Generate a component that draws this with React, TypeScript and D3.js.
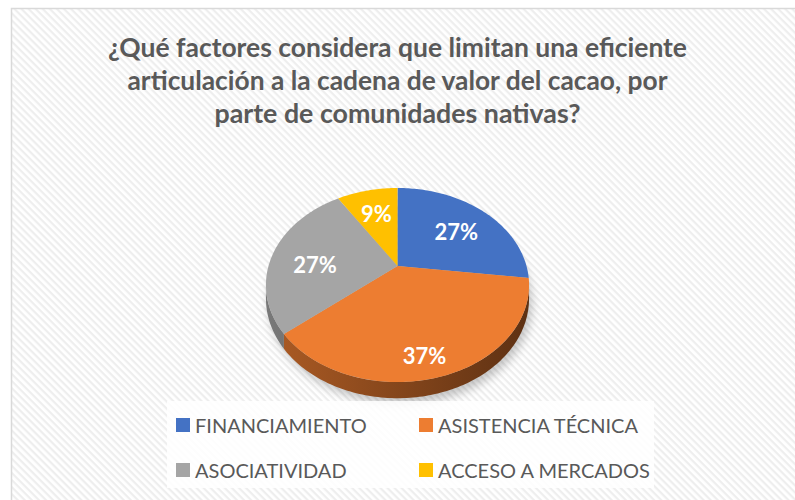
import React from "react";
import * as d3 from "d3";

// chart values
const categories = ["FINANCIAMIENTO", "ASISTENCIA TÉCNICA", "ASOCIATIVIDAD", "ACCESO A MERCADOS"];
const percents = [27, 37, 27, 9];
const colors = ["#4472c4", "#ed7d31", "#a5a5a5", "#ffc000"];
const titleLines = [
  "¿Qué factores considera que limitan una eficiente",
  "articulación a la cadena de valor del cacao, por",
  "parte de comunidades nativas?",
];

const W = 795;
const H = 500;

// 3d pie camera
const cx = 397.5;
const cy = 266;
const kx = 129;
const ky = 93.3;
const persp = 0.196;
const thick = 13;

// angle a (clockwise from 12 o'clock), radius fraction r, drop = extrusion downwards
const project = (a: number, r = 1, drop = 0): [number, number] => {
  const u = Math.sin(a) * r;
  const v = -Math.cos(a) * r;
  const D = 1 - persp * v;
  return [cx + (kx * u) / D, cy + (ky * v + drop) / D];
};

const arcPts = (a0: number, a1: number, drop = 0) => {
  const n = Math.max(2, Math.ceil(Math.abs(a1 - a0) / 0.02));
  return d3.range(n + 1).map(i => project(a0 + ((a1 - a0) * i) / n, 1, drop));
};

const line = d3.line<[number, number]>();

const slices = d3.pie<number>().sort(null).value(d => d)(percents);

// side wall is visible between the two silhouette angles
const sideA = Math.PI / 2 + Math.asin(persp);
const sideB = (3 * Math.PI) / 2 - Math.asin(persp);

const App = () => {
  const tops = slices.map(s => line([[cx, cy], ...arcPts(s.startAngle, s.endAngle)]) + "Z");

  const sides = slices.map(s => {
    const s0 = Math.max(s.startAngle, sideA);
    const s1 = Math.min(s.endAngle, sideB);
    if (s1 <= s0) return null;
    return line([...arcPts(s0, s1), ...arcPts(s1, s0, thick)]) + "Z";
  });

  const shadow = line(arcPts(0, Math.PI * 2, thick + 3)) + "Z";

  // excel pushes the front labels down a bit (roughly half way into the wall)
  const labels = slices.map(s => {
    const mid = (s.startAngle + s.endAngle) / 2;
    const front = (1 - Math.cos(mid)) / 2;
    return project(mid, 0.66, thick * 1.5 * front);
  });

  const legendRows = [0, 1];
  const legendCols = [176, 419];

  return (
    <div style={{ position: "absolute", left: 0, top: 0 }}>
      <svg width={W} height={H} style={{ display: "block" }}>
        <defs>
          <pattern id="hatch" width="5" height="5" patternUnits="userSpaceOnUse" patternTransform="rotate(45)">
            <rect width="5" height="5" fill="#ffffff" />
            <rect width="5" height="2.2" fill="#eeeeee" />
          </pattern>
          {colors.map((c, i) => (
            <linearGradient key={i} id={`side${i}`} gradientUnits="userSpaceOnUse" x1={cx - kx} x2={cx + kx} y1="0" y2="0">
              <stop offset="0" stopColor={d3.color(c)!.darker(0.9).formatHex()} />
              <stop offset="1" stopColor={d3.color(c)!.darker(2.6).formatHex()} />
            </linearGradient>
          ))}
          <filter id="blur" x="-20%" y="-20%" width="140%" height="140%">
            <feGaussianBlur stdDeviation="5" />
          </filter>
        </defs>

        <rect x={0} y={0} width={W} height={H} fill="#ffffff" />
        <rect x={11.5} y={8.5} width={W + 10} height={H + 10} fill="url(#hatch)" stroke="#d9d9d9" strokeWidth={1.5} />

        <g fill="#595959" fontFamily="Lato, 'Open Sans', sans-serif" fontWeight="bold" fontSize={27} textAnchor="middle">
          {titleLines.map((t, i) => (
            <text
              key={i}
              x={W / 2}
              y={57 + i * 33}
              textLength={[579, 540, 366][i]}
              lengthAdjust="spacingAndGlyphs"
            >
              {t}
            </text>
          ))}
        </g>

        <path d={shadow} fill="#000" opacity={0.22} filter="url(#blur)" transform="translate(3,2)" />

        {sides.map((d, i) => (d ? <path key={i} d={d} fill={`url(#side${i})`} /> : null))}
        {tops.map((d, i) => (
          <path key={i} d={d} fill={colors[i]} />
        ))}

        <g fill="#ffffff" fontFamily="Lato, 'Open Sans', sans-serif" fontWeight="bold" fontSize={22} textAnchor="middle">
          {labels.map(([x, y], i) => (
            <text key={i} x={x} y={y} dominantBaseline="central">
              {percents[i]}%
            </text>
          ))}
        </g>

        <rect x={167} y={401} width={487} height={87} fill="#ffffff" opacity={0.85} />
        <g fontFamily="Lato, 'Open Sans', sans-serif" fontSize={20} fill="#595959">
          {categories.map((c, i) => {
            const col = legendCols[i % 2];
            const row = legendRows[Math.floor(i / 2)];
            const y = 425 + row * 45;
            return (
              <g key={c}>
                <rect x={col} y={y - 7} width={14} height={14} fill={colors[i]} />
                <text x={col + 19} y={y} dominantBaseline="central">
                  {c}
                </text>
              </g>
            );
          })}
        </g>
      </svg>
    </div>
  );
};

export default App;
